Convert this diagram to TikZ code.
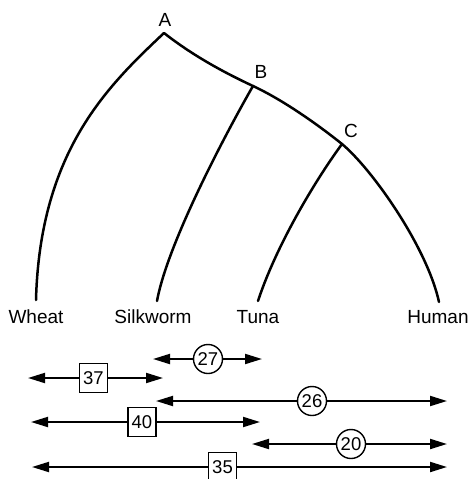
\documentclass[tikz,border=0pt]{standalone}
\usepackage{fontspec}
\setmainfont{Liberation Sans}
\usetikzlibrary{arrows.meta}
\begin{document}
\begin{tikzpicture}[x=1pt,y=-1pt,
  branch/.style={line width=2.5pt,line cap=round},
  taxon/.style={anchor=base,font=\fontsize{19}{19}\selectfont,inner sep=0pt},
  bar/.style={line width=2pt,-{Triangle[length=17pt,width=10pt]}},
  numbox/.style={draw,line width=1.4pt,fill=white,inner sep=0pt,
    minimum width=28pt,minimum height=29pt,font=\fontsize{18.5}{18.5}\selectfont},
  numcirc/.style={draw,circle,line width=1.4pt,fill=white,inner sep=0pt,
    minimum size=29pt,font=\fontsize{18.5}{18.5}\selectfont}]
\useasboundingbox (0,0) rectangle (469,479);

% branching points and leaf ends
\coordinate (A) at (164,33);
\coordinate (B) at (253,86);
\coordinate (C) at (342,144);
\coordinate (wheat) at (36,300);
\coordinate (silk) at (157,301);
\coordinate (tuna) at (258,301);
\coordinate (human) at (439,302);

% tree
\draw[branch] (A) .. controls +(-55,52) and +(4,-150) .. (wheat);
\draw[branch] (A) .. controls +(28,22) and +(-30,-14) .. (B)
  .. controls +(30,14) and +(-25,-20) .. (C)
  .. controls +(30,25) and +(-12,-55) .. (human);
\draw[branch] (B) .. controls +(-23,40) and +(11,-60) .. (silk);
\draw[branch] (C) .. controls +(-30,41) and +(17,-52) .. (tuna);

% labels
\node[taxon] (lA) at (165,27) {A};
\node[taxon] (lB) at (261,78) {B};
\node[taxon] (lC) at (351,137) {C};
\node[taxon] (tW) at (36,323) {Wheat};
\node[taxon] (tS) at (153,323) {Silkworm};
\node[taxon] (tT) at (258,323) {Tuna};
\node[taxon] (tH) at (438,323) {Human};

% distance bars
\node[numcirc] (d27) at (208,359) {27};
\coordinate (d27l) at (153,359); \coordinate (d27r) at (262,359);
\draw[bar] (d27) -- (d27l); \draw[bar] (d27) -- (d27r);

\node[numbox] (d37) at (93.5,378) {37};
\coordinate (d37l) at (28,378); \coordinate (d37r) at (163,378);
\draw[bar] (d37) -- (d37l); \draw[bar] (d37) -- (d37r);

\node[numcirc] (d26) at (312,401) {26};
\coordinate (d26l) at (156,401); \coordinate (d26r) at (447,401);
\draw[bar] (d26) -- (d26l); \draw[bar] (d26) -- (d26r);

\node[numbox] (d40) at (142,422) {40};
\coordinate (d40l) at (31,422); \coordinate (d40r) at (260,422);
\draw[bar] (d40) -- (d40l); \draw[bar] (d40) -- (d40r);

\node[numcirc] (d20) at (351,444) {20};
\coordinate (d20l) at (252,444); \coordinate (d20r) at (447,444);
\draw[bar] (d20) -- (d20l); \draw[bar] (d20) -- (d20r);

\node[numbox] (d35) at (222.5,467) {35};
\coordinate (d35l) at (32,467); \coordinate (d35r) at (447,467);
\draw[bar] (d35) -- (d35l); \draw[bar] (d35) -- (d35r);
\end{tikzpicture}
\end{document}
